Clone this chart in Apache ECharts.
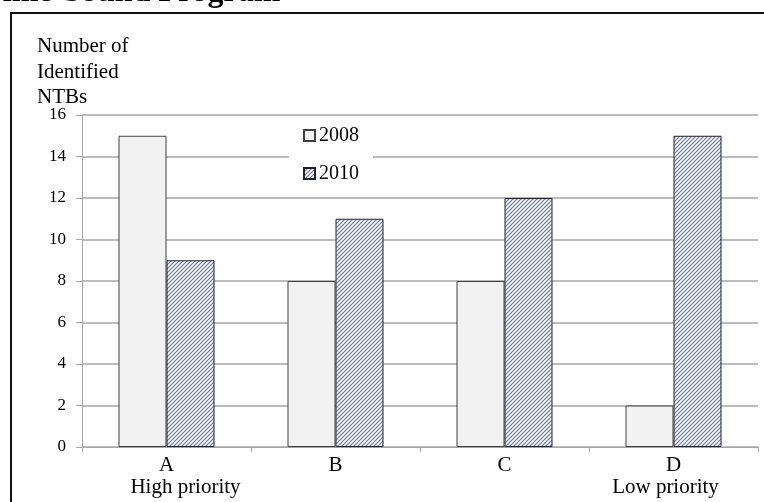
<!DOCTYPE html>
<html>
<head>
<meta charset="utf-8">
<script src="https://cdn.jsdelivr.net/npm/echarts@6/dist/echarts.min.js"></script>
<style>
  html, body { margin: 0; padding: 0; background: #fff; }
  #chart { width: 764px; height: 502px; }
</style>
</head>
<body>
<div id="chart"></div>
<script>
// Priority groups of non-tariff barriers and counts per survey year
const categories = ['A\nHigh priority', 'B', 'C', 'D\nLow priority'];
const seriesNames = ['2008', '2010'];
const values2008 = [15, 8, 8, 2];
const values2010 = [9, 11, 12, 15];
const yTicks = { min: 0, max: 16, interval: 2 };

// Diagonal hatch fill for the 2010 bars
function hatchPattern() {
  const c = document.createElement('canvas');
  c.width = 4; c.height = 4;
  const g = c.getContext('2d');
  g.fillStyle = '#ffffff';
  g.fillRect(0, 0, 4, 4);
  g.strokeStyle = '#6275aa';
  g.lineWidth = 1.2;
  g.beginPath();
  g.moveTo(-1, 5); g.lineTo(5, -1);
  g.moveTo(-1, 1); g.lineTo(1, -1);
  g.moveTo(3, 5); g.lineTo(5, 3);
  g.stroke();
  return c;
}

// Category label: letter on the first line, priority note offset on the second
function categoryLabel(value) {
  const parts = value.split('\n');
  if (parts.length < 2) return '{main|' + parts[0] + '}';
  const style = parts[1].indexOf('High') === 0 ? 'high' : 'low';
  return '{main|' + parts[0] + '}\n{' + style + '|' + parts[1] + '}';
}

const serif = '"Liberation Serif", "DejaVu Serif", serif';
const chart = echarts.init(document.getElementById('chart'), null, { renderer: 'canvas' });

const labelText = { fontFamily: serif, fontSize: 21, color: '#000', lineHeight: 22 };

chart.setOption({
  animation: false,
  backgroundColor: '#ffffff',
  title: {
    text: 'Number of\nIdentified\nNTBs',
    left: 32,
    top: 29,
    textStyle: { fontFamily: serif, fontSize: 21, fontWeight: 'normal', color: '#000', lineHeight: 25.5 }
  },
  graphic: [
    {
      type: 'text', left: -18, top: -23,
      style: { text: 'Time-bound Program', font: 'bold 32px ' + serif, fill: '#000' }
    },
    {
      type: 'rect', shape: { x: 11, y: 13, width: 800, height: 600 },
      style: { fill: 'none', stroke: '#111', lineWidth: 2 }, z: 10
    }
  ],
  legend: {
    data: seriesNames,
    orient: 'vertical',
    left: 289,
    top: 122,
    padding: [2, 14, 2, 14],
    backgroundColor: '#ffffff',
    itemWidth: 11,
    itemHeight: 11,
    itemGap: 15,
    icon: 'rect',
    textStyle: { fontFamily: serif, fontSize: 20, color: '#000', lineHeight: 23, padding: [0, 0, 0, -1] },
    z: 5
  },
  grid: { left: 82, right: 6, top: 115, bottom: 55 },
  xAxis: {
    type: 'category',
    data: categories,
    axisLine: { lineStyle: { color: '#a6a6a6', width: 1 } },
    axisTick: { show: true, length: 5, lineStyle: { color: '#a6a6a6' } },
    axisLabel: {
      margin: 7,
      formatter: categoryLabel,
      rich: {
        main: labelText,
        high: Object.assign({ padding: [0, 0, 0, 38] }, labelText),
        low: Object.assign({ padding: [0, 16, 0, 0] }, labelText)
      }
    }
  },
  yAxis: {
    type: 'value',
    min: yTicks.min,
    max: yTicks.max,
    interval: yTicks.interval,
    axisLine: { show: true, lineStyle: { color: '#a6a6a6', width: 1 } },
    axisTick: { show: true, length: 6, lineStyle: { color: '#a6a6a6' } },
    axisLabel: { fontFamily: serif, fontSize: 17, color: '#000', margin: 16 },
    splitLine: { lineStyle: { color: '#a6a6a6', width: 1.5 } }
  },
  series: [
    {
      name: seriesNames[0],
      type: 'bar',
      data: values2008,
      barWidth: 48,
      barGap: '0%',
      itemStyle: { color: '#f2f2f2', borderColor: '#404040', borderWidth: 1 }
    },
    {
      name: seriesNames[1],
      type: 'bar',
      data: values2010,
      barWidth: 48,
      itemStyle: {
        color: { image: hatchPattern(), repeat: 'repeat' },
        borderColor: '#202030',
        borderWidth: 1
      }
    }
  ]
});
</script>
</body>
</html>
